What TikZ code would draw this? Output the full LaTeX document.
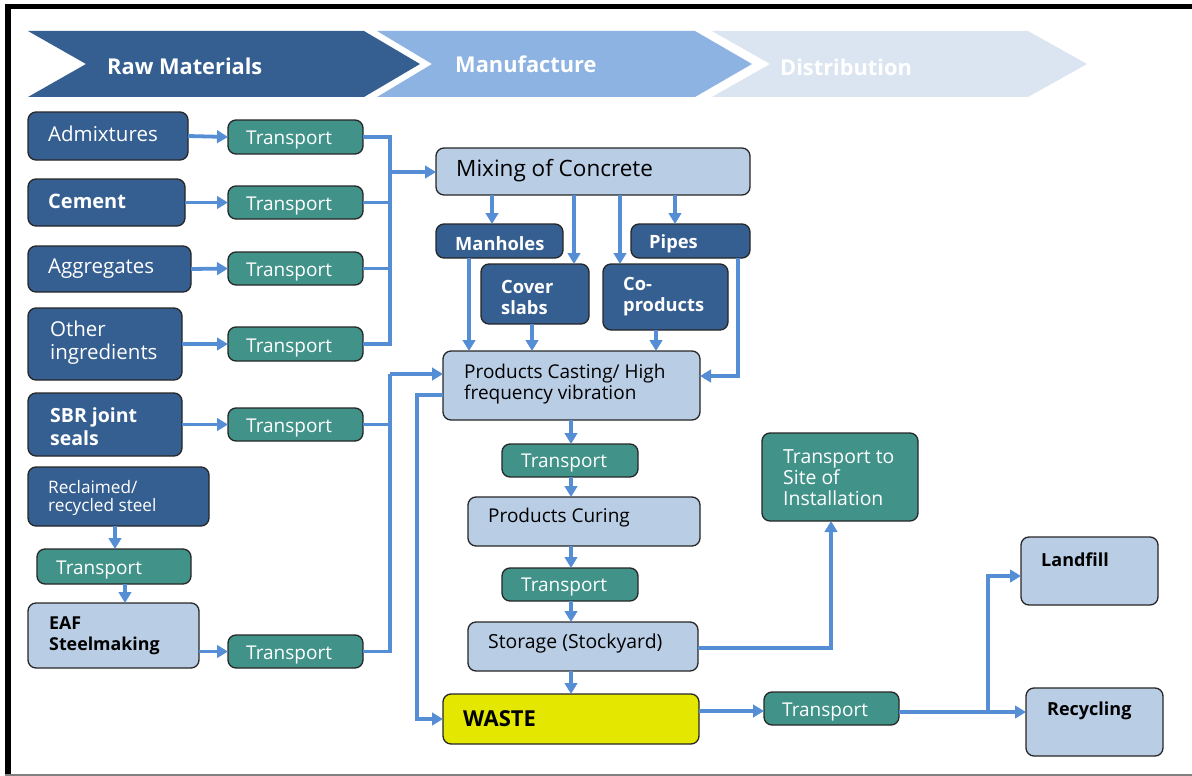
\documentclass[tikz,border=0pt]{standalone}
\usepackage{fontspec}
\setmainfont{Open Sans}
\usetikzlibrary{arrows.meta}
\definecolor{dblue}{RGB}{54,95,145}
\definecolor{teal2}{RGB}{65,147,137}
\definecolor{lbox}{RGB}{185,205,229}
\definecolor{arr}{RGB}{85,142,213}
\definecolor{yel}{RGB}{228,232,0}
\definecolor{hdtwo}{RGB}{141,179,226}
\definecolor{hdthree}{RGB}{219,229,241}
\tikzset{
  bx/.style={draw=black!85, line width=1.3pt, rounded corners=8pt, inner sep=0pt, outer sep=0pt, anchor=north west},
  dbx/.style={bx, fill=dblue},
  tbx/.style={bx, fill=teal2},
  lbx/.style={bx, fill=lbox},
  ybx/.style={bx, fill=yel},
  wt/.style={text=white, anchor=west, inner sep=0pt, yshift=-2pt, align=left, font=\fontsize{19}{23}\selectfont},
  bt/.style={text=black, anchor=west, inner sep=0pt, yshift=-2pt, align=left, font=\fontsize{19}{22}\selectfont},
  hd/.style={text=white, anchor=west, inner sep=0pt, yshift=-1pt, font=\fontsize{21.8}{24}\selectfont\bfseries},
  ln/.style={draw=arr, line width=3.8pt},
  flow/.style={ln, -{Triangle[length=11pt,width=12.5pt]}},
}
\newcommand\mybox[6]{\node[#1, minimum width={(#5-#3)*1pt}, minimum height={(#6-#4)*1pt}] (#2) at (#3,#4) {};}
\begin{document}
\begin{tikzpicture}[x=1pt,y=-1pt]
\useasboundingbox (0,0) rectangle (1192,776);
% frame
\fill[black] (5,4) rectangle (1192,9);
\fill[black] (5,4) rectangle (11,776);
\draw[gray, line width=1.5pt] (5,775) -- (1192,775);
% header chevrons
\fill[dblue] (28,31) -- (364,31) -- (420,64) -- (364,97) -- (28,97) -- (86,64) -- cycle;
\fill[hdtwo] (377,31) -- (695,31) -- (752,64) -- (695,97) -- (377,97) -- (432,64) -- cycle;
\fill[hdthree] (712,31) -- (1028,31) -- (1087,64) -- (1028,97) -- (712,97) -- (770,64) -- cycle;
\node[hd] (h1) at (107,65) {Raw Materials};
\node[hd] (h2) at (455,63) {Manufacture};
\node[hd] (h3) at (780,66) {Distribution};
% raw material boxes
\mybox{dbx}{adm}{28}{112}{188}{160}
\mybox{dbx}{cem}{28}{179}{185}{226}
\mybox{dbx}{agg}{28}{246}{191}{292}
\mybox{dbx}{oth}{28}{308}{182}{380}
\mybox{dbx}{sbr}{28}{393}{182}{456}
\mybox{dbx}{rec}{28}{467}{209}{526}
\mybox{tbx}{tseven}{37}{549}{191}{584}
\mybox{lbx}{eaf}{28}{603}{199}{668}
\node[wt, font=\fontsize{20.5}{23}\selectfont] at (48,132) {Admixtures};
\node[wt, font=\fontsize{20}{23}\selectfont\bfseries] at (48,199) {Cement};
\node[wt, font=\fontsize{20.5}{23}\selectfont] at (48,267) {Aggregates};
\node[wt, font=\fontsize{20.5}{23}\selectfont] at (50,341) {Other\\ingredients};
\node[wt, font=\fontsize{19.5}{23}\selectfont\bfseries] at (50,425) {SBR joint\\seals};
\node[wt, font=\fontsize{17.2}{18}\selectfont] at (48,496) {Reclaimed/\\recycled steel};
\node[wt] at (56,568) {Transport};
\node[bt, font=\fontsize{17.8}{21}\selectfont\bfseries] at (49,634) {EAF\\Steelmaking};
% transport column
\mybox{tbx}{tone}{228}{120}{363}{154}
\mybox{tbx}{ttwo}{228}{186}{363}{219}
\mybox{tbx}{tthree}{228}{252}{363}{285}
\mybox{tbx}{tfour}{228}{327}{363}{361}
\mybox{tbx}{tfive}{228}{408}{363}{441}
\mybox{tbx}{teight}{228}{635}{363}{668}
\node[wt] at (246,138) {Transport};
\node[wt] at (246,204) {Transport};
\node[wt] at (246,270) {Transport};
\node[wt] at (246,346) {Transport};
\node[wt] at (246,426) {Transport};
\node[wt] at (246,653) {Transport};
% manufacture
\mybox{lbx}{mix}{436}{148}{750}{195}
\node[bt, font=\fontsize{22.5}{24}\selectfont] at (456,169) {Mixing of Concrete};
\mybox{dbx}{mh}{436}{224}{563}{258}
\mybox{dbx}{pip}{631}{224}{750}{258}
\mybox{dbx}{cov}{481}{264}{589}{324}
\mybox{dbx}{cop}{603}{264}{728}{330}
\node[wt, font=\fontsize{18.3}{21}\selectfont\bfseries] at (455,242) {Manholes};
\node[wt, font=\fontsize{18.3}{21}\selectfont\bfseries] at (649,242) {Pipes};
\node[wt, font=\fontsize{18.3}{21}\selectfont\bfseries] at (501,295) {Cover\\slabs};
\node[wt, font=\fontsize{18.3}{21}\selectfont\bfseries] at (623,295) {Co-\\products};
\mybox{lbx}{cast}{443}{351}{700}{420}
\node[bt, font=\fontsize{19}{21}\selectfont] at (464,382) {Products Casting/ High\\frequency vibration};
\mybox{tbx}{tnine}{502}{444}{638}{477}
\node[wt] at (521,461) {Transport};
\mybox{lbx}{cur}{468}{497}{700}{546}
\node[bt] at (488,516) {Products Curing};
\mybox{tbx}{tten}{502}{568}{638}{601}
\node[wt] at (521,585) {Transport};
\mybox{lbx}{sto}{468}{622}{698}{671}
\node[bt, font=\fontsize{19.4}{22}\selectfont] at (488,641) {Storage (Stockyard)};
\mybox{ybx}{waste}{443}{694}{699}{744}
\node[bt, font=\fontsize{22}{24}\selectfont\bfseries] at (463,717) {WASTE};
% distribution
\mybox{tbx}{site}{762}{433}{918}{521}
\node[wt, font=\fontsize{19.4}{21}\selectfont] at (783,476) {Transport to\\Site of\\Installation};
\mybox{tbx}{televen}{764}{692}{899}{725}
\node[wt] at (782,710) {Transport};
\mybox{lbx}{land}{1021}{537}{1158}{605}
\node[bt, font=\fontsize{18}{21}\selectfont\bfseries] at (1041,558) {Landfill};
\mybox{lbx}{recy}{1026}{688}{1163}{756}
\node[bt, font=\fontsize{18}{21}\selectfont\bfseries] at (1047,709) {Recycling};
% helper coordinates
\coordinate (cA) at (390,172);
\coordinate (cB) at (390,374);
\coordinate (wA) at (417,395);
\coordinate (wB) at (417,719);
\coordinate (k115) at (115,0);
\coordinate (k125) at (125,0);
\coordinate (k492) at (492,0);
\coordinate (k574) at (574,0);
\coordinate (k620) at (620,0);
\coordinate (k675) at (675,0);
\coordinate (k469) at (469,0);
\coordinate (k532) at (532,0);
\coordinate (k656) at (656,0);
\coordinate (pA) at (738,376);
\coordinate (k571) at (571,0);
\coordinate (sA) at (831,648);
\coordinate (y711) at (0,711);
\coordinate (rA) at (988,712);
\coordinate (rB) at (988,576);
% raw -> transport
\draw[flow] (adm.east) -- (tone.west);
\draw[flow] (cem.east) -- (ttwo.west);
\draw[flow] (agg.east) -- (tthree.west);
\draw[flow] (oth.east) -- (tfour.west);
\draw[flow] (sbr.east) -- (tfive.west);
\draw[flow] (eaf.east |- teight.west) -- (teight.west);
\draw[flow] (rec.south -| k115) -- (tseven.north -| k115);
\draw[flow] (tseven.south -| k125) -- (eaf.north -| k125);
% collectors
\draw[ln] (tone.east) -| (cA);
\draw[ln] (ttwo.east) -| (cA);
\draw[ln] (tthree.east) -| (cA);
\draw[ln] (tfour.east) -| (cA);
\draw[flow] (cA) -- (mix.west |- cA);
\draw[ln] (tfive.east) -| (cB);
\draw[ln] (teight.east) -| (cB);
\draw[flow] (cB) -- (cast.west |- cB);
\draw[flow] (cast.west |- wA) -- (wA) -- (wB) -- (waste.west |- wB);
% mixing -> products
\draw[flow] (mix.south -| k492) -- (mh.north -| k492);
\draw[flow] (mix.south -| k574) -- (cov.north -| k574);
\draw[flow] (mix.south -| k620) -- (cop.north -| k620);
\draw[flow] (mix.south -| k675) -- (pip.north -| k675);
\draw[flow] (mh.south -| k469) -- (cast.north -| k469);
\draw[flow] (cov.south -| k532) -- (cast.north -| k532);
\draw[flow] (cop.south -| k656) -- (cast.north -| k656);
\draw[flow] (pip.south -| pA) -- (pA) -- (cast.east |- pA);
% main chain
\draw[flow] (cast.south -| k571) -- (tnine.north -| k571);
\draw[flow] (tnine.south -| k571) -- (cur.north -| k571);
\draw[flow] (cur.south -| k571) -- (tten.north -| k571);
\draw[flow] (tten.south -| k571) -- (sto.north -| k571);
\draw[flow] (sto.south -| k571) -- (waste.north -| k571);
\draw[flow] (sto.east |- sA) -- (sA) -- (site.south -| sA);
\draw[flow] (waste.east |- y711) -- (televen.west |- y711);
\draw[flow] (televen.east |- rA) -- (recy.west |- rA);
\draw[flow] (rA) -- (rB) -- (land.west |- rB);
\end{tikzpicture}
\end{document}
